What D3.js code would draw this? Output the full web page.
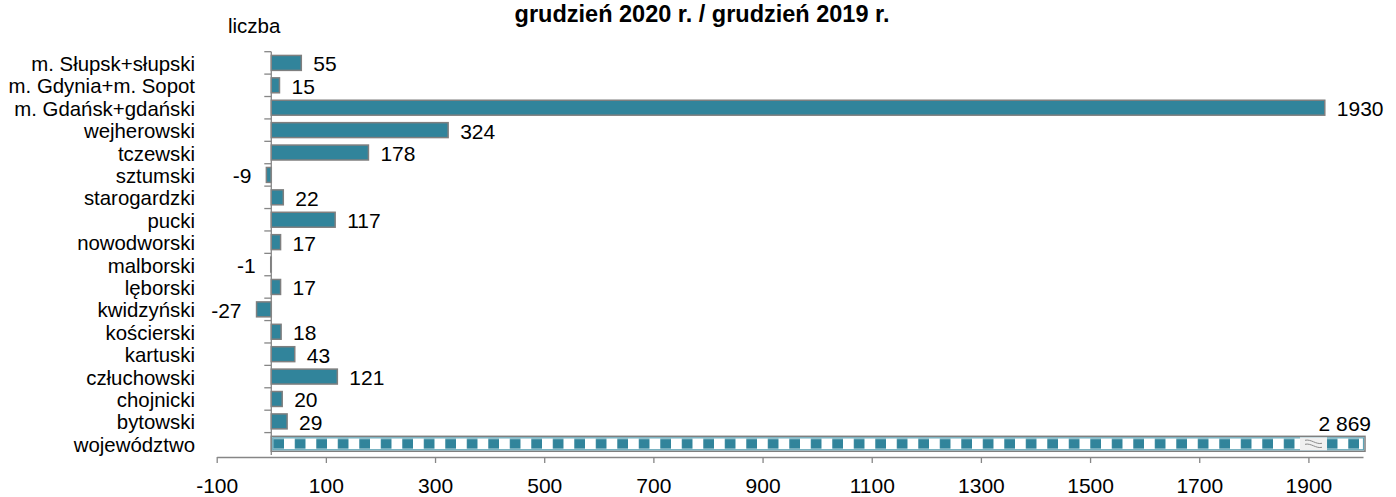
<!DOCTYPE html>
<html>
<head>
<meta charset="utf-8">
<script src="https://cdn.jsdelivr.net/npm/d3@7"></script>
<style>
  html, body { margin: 0; padding: 0; background: #fff; }
  svg { display: block; font-family: "Liberation Sans", Arial, sans-serif; }
</style>
</head>
<body>
<svg id="chart" width="1396" height="497"></svg>
<script>
const title = "grudzień 2020 r. / grudzień 2019 r.";
const unitLabel = "liczba";
const categories = [
  "m. Słupsk+słupski", "m. Gdynia+m. Sopot", "m. Gdańsk+gdański", "wejherowski",
  "tczewski", "sztumski", "starogardzki", "pucki", "nowodworski", "malborski",
  "lęborski", "kwidzyński", "kościerski", "kartuski", "człuchowski", "chojnicki",
  "bytowski", "województwo"
];
const values = [55, 15, 1930, 324, 178, -9, 22, 117, 17, -1, 17, -27, 18, 43, 121, 20, 29, 2869];
const totalCategory = "województwo";
const xTicks = [-100, 100, 300, 500, 700, 900, 1100, 1300, 1500, 1700, 1900];
const xDomain = [-100, 2000];

const barColor = "#31849b";
const barStroke = "#7f7f7f";
const axisColor = "#868686";

const svg = d3.select("#chart");

const x = d3.scaleLinear().domain(xDomain).range([216.7, 1363]);
const y = d3.scaleBand().domain(categories).range([51.7, 455])
  .paddingInner(1/3).paddingOuter(1/6);

// plain hyphen-minus, space as thousands separator for the total
const fmt = v => String(v);
const fmtTotal = v => String(v).replace(/\B(?=(\d{3})+(?!\d))/g, "\u00a0");

// pattern for total bar
const defs = svg.append("defs");
const bw = y.bandwidth();
const totalY = y(totalCategory);
const pat = defs.append("pattern")
  .attr("id", "checker")
  .attr("patternUnits", "userSpaceOnUse")
  .attr("x", x(0)).attr("y", totalY)
  .attr("width", 21.5).attr("height", bw);
pat.append("rect").attr("width", 21.5).attr("height", bw).attr("fill", "#ffffff");
pat.append("rect").attr("x", 2).attr("y", (bw - 10) / 2).attr("width", 10.7).attr("height", 10).attr("fill", barColor);

// title
svg.append("text")
  .attr("x", 702).attr("y", 14)
  .attr("text-anchor", "middle").attr("dominant-baseline", "central")
  .attr("font-weight", "bold").attr("font-size", 23.5)
  .attr("fill", "#000")
  .text(title);

svg.append("text")
  .attr("x", 228).attr("y", 25)
  .attr("dominant-baseline", "central")
  .attr("font-size", 20.5).attr("fill", "#000")
  .text(unitLabel);

// x axis
const xAxis = d3.axisBottom(x).tickValues(xTicks).tickSize(6).tickSizeOuter(0)
  .tickPadding(15).tickFormat(d => String(d));
const gx = svg.append("g").attr("transform", "translate(0,457)").call(xAxis);
gx.select(".domain").attr("stroke", axisColor).attr("stroke-width", 1.3);
gx.selectAll(".tick line").attr("stroke", axisColor).attr("stroke-width", 1.3);
gx.selectAll(".tick text").attr("font-size", 21).attr("fill", "#000")
  .attr("font-family", "Liberation Sans, Arial, sans-serif");

// bars
const data = categories.map((c, i) => ({c, v: values[i]}));
const maxV = xDomain[1];

svg.append("g").selectAll("rect")
  .data(data)
  .join("rect")
  .attr("x", d => x(Math.min(0, d.v)))
  .attr("y", d => y(d.c))
  .attr("width", d => Math.abs(x(Math.min(d.v, maxV)) - x(0)) + (d.v > maxV ? 2 : 0))
  .attr("height", bw)
  .attr("fill", d => d.c === totalCategory ? "url(#checker)" : barColor)
  .attr("stroke", barStroke)
  .attr("stroke-width", 1.5);

// inner teal lines on total bar
svg.append("rect")
  .attr("x", x(0) + 1.5).attr("y", totalY + 1.5)
  .attr("width", x(maxV) + 2 - x(0) - 3).attr("height", bw - 3)
  .attr("fill", "none").attr("stroke", "#5fa3b5").attr("stroke-width", 1.2);

// break symbol on total bar
const bx0 = x(maxV) - 63, bx1 = x(maxV) - 36;
svg.append("rect")
  .attr("x", bx0).attr("y", totalY + 1).attr("width", bx1 - bx0).attr("height", bw - 2)
  .attr("fill", "#f0f0f0");
[-2, 2].forEach(dy => {
  const cy = totalY + bw / 2 + dy;
  svg.append("path")
    .attr("d", `M${bx0 + 5},${cy - 1.5} C${bx0 + 11},${cy - 3} ${bx0 + 16},${cy + 3} ${bx1 - 5},${cy + 1.5}`)
    .attr("fill", "none").attr("stroke", "#8a8a8a").attr("stroke-width", 1);
});

// y axis
svg.append("line")
  .attr("x1", x(0)).attr("x2", x(0))
  .attr("y1", y.range()[0]).attr("y2", y.range()[1])
  .attr("stroke", axisColor).attr("stroke-width", 1.3);
svg.append("g").selectAll("line")
  .data(categories)
  .join("line")
  .attr("x1", x(0) - 7).attr("x2", x(0))
  .attr("y1", (d, i) => y.range()[0] + i * y.step())
  .attr("y2", (d, i) => y.range()[0] + i * y.step())
  .attr("stroke", axisColor).attr("stroke-width", 1.3);

// category labels
svg.append("g").selectAll("text")
  .data(categories)
  .join("text")
  .attr("x", 195)
  .attr("y", d => y(d) + bw / 2 + 1)
  .attr("text-anchor", "end").attr("dominant-baseline", "central")
  .attr("font-size", 20.4).attr("fill", "#000")
  .text(d => d);

// value labels
svg.append("g").selectAll("text")
  .data(data)
  .join("text")
  .attr("x", d => d.c === totalCategory ? x(maxV) + 8 : (d.v >= 0 ? x(d.v) + 12 : x(d.v) - 15))
  .attr("y", d => d.c === totalCategory ? y(d.c) - 13 : y(d.c) + bw / 2 + 1)
  .attr("text-anchor", d => (d.c === totalCategory || d.v < 0) ? "end" : "start")
  .attr("dominant-baseline", "central")
  .attr("font-size", 21).attr("fill", "#000")
  .text(d => d.c === totalCategory ? fmtTotal(d.v) : fmt(d.v));
</script>
</body>
</html>
